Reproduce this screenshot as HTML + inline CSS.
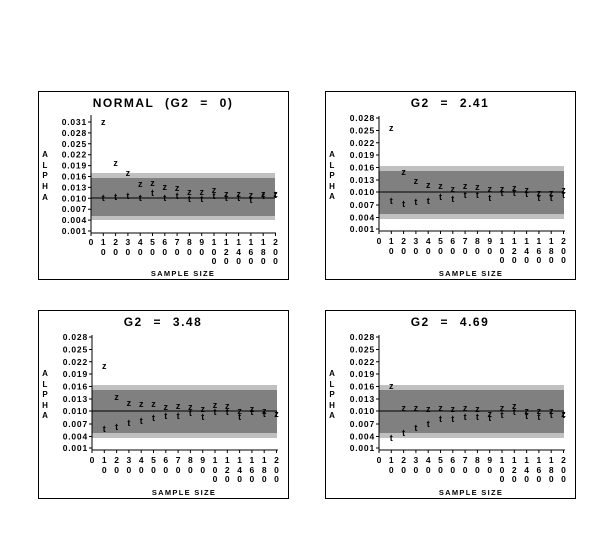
<!DOCTYPE html>
<html><head><meta charset="utf-8"><style>
html,body{margin:0;padding:0;background:#fff}
svg{display:block}
text{font-family:"Liberation Sans",Arial,sans-serif;font-weight:bold;fill:#000}
.m{font-size:9px;text-anchor:middle;dominant-baseline:central}
.yl{font-size:8.5px;text-anchor:end;dominant-baseline:central;letter-spacing:0.8px}
.xl{font-size:8.5px;text-anchor:middle}
.ti{font-size:12px;text-anchor:middle;letter-spacing:1.5px;word-spacing:6px}
.ax{font-size:7.5px;text-anchor:middle;letter-spacing:1.3px}
.al{font-size:8px;text-anchor:middle}
</style></head><body>
<svg width="615" height="535" viewBox="0 0 615 535" xmlns="http://www.w3.org/2000/svg">
<rect width="615" height="535" fill="#fff"/>

<!-- Panel 1 -->
<g transform="translate(38,91)">
<rect x="0.5" y="0.5" width="250" height="188" fill="none" stroke="#000"/>
<text class="ti" x="125" y="16">NORMAL (G2 = 0)</text>
<rect x="53" y="82" width="184" height="47" fill="#c0c0c0"/>
<rect x="53" y="87" width="184" height="38" fill="#808080"/>
<line x1="53" y1="107" x2="237" y2="107" stroke="#000"/>
<line x1="53" y1="24" x2="53" y2="142" stroke="#000"/>
<line x1="53" y1="142" x2="238" y2="142" stroke="#000"/>
<g class="yl">
<text x="49" y="31">0.031</text><text x="49" y="41.9">0.028</text><text x="49" y="52.8">0.025</text><text x="49" y="63.7">0.022</text><text x="49" y="74.6">0.019</text><text x="49" y="85.5">0.016</text><text x="49" y="96.4">0.013</text><text x="49" y="107.3">0.010</text><text x="49" y="118.2">0.007</text><text x="49" y="129.1">0.004</text><text x="49" y="140">0.001</text>
</g>
<path d="M50 31h3M50 41.9h3M50 52.8h3M50 63.7h3M50 74.6h3M50 85.5h3M50 96.4h3M50 107.3h3M50 118.2h3M50 129.1h3M50 140h3" stroke="#000"/>
<g class="xl">
<text x="53" y="154">0</text><text x="65.3" y="154">1</text><text x="77.6" y="154">2</text><text x="89.9" y="154">3</text><text x="102.2" y="154">4</text><text x="114.5" y="154">5</text><text x="126.8" y="154">6</text><text x="139.1" y="154">7</text><text x="151.4" y="154">8</text><text x="163.7" y="154">9</text><text x="176" y="154">1</text><text x="188.3" y="154">1</text><text x="200.6" y="154">1</text><text x="212.9" y="154">1</text><text x="225.2" y="154">1</text><text x="237.5" y="154">2</text>
<text x="65.3" y="164">0</text><text x="77.6" y="164">0</text><text x="89.9" y="164">0</text><text x="102.2" y="164">0</text><text x="114.5" y="164">0</text><text x="126.8" y="164">0</text><text x="139.1" y="164">0</text><text x="151.4" y="164">0</text><text x="163.7" y="164">0</text><text x="176" y="164">0</text><text x="188.3" y="164">2</text><text x="200.6" y="164">4</text><text x="212.9" y="164">6</text><text x="225.2" y="164">8</text><text x="237.5" y="164">0</text>
<text x="176" y="173">0</text><text x="188.3" y="173">0</text><text x="200.6" y="173">0</text><text x="212.9" y="173">0</text><text x="225.2" y="173">0</text><text x="237.5" y="173">0</text>
</g>
<path d="M53 142v3M65.3 142v3M77.6 142v3M89.9 142v3M102.2 142v3M114.5 142v3M126.8 142v3M139.1 142v3M151.4 142v3M163.7 142v3M176 142v3M188.3 142v3M200.6 142v3M212.9 142v3M225.2 142v3M237.5 142v3" stroke="#000"/>
<text class="ax" x="145" y="185">SAMPLE SIZE</text>
<g class="al"><text x="7" y="66">A</text><text x="7" y="77">L</text><text x="7" y="87">P</text><text x="7" y="98">H</text><text x="7" y="109">A</text></g>
<g class="m">
<text x="65.3" y="31">z</text><text x="77.6" y="72">z</text><text x="89.9" y="82">z</text><text x="102.2" y="93">z</text><text x="114.5" y="92">z</text><text x="126.8" y="96">z</text><text x="139.1" y="97">z</text><text x="151.4" y="101">z</text><text x="163.7" y="101">z</text><text x="176" y="99">z</text><text x="188.3" y="103">z</text><text x="200.6" y="103">z</text><text x="212.9" y="104">z</text><text x="225.2" y="103">z</text><text x="237.5" y="103">z</text>
<text x="65.3" y="107">t</text><text x="77.6" y="106">t</text><text x="89.9" y="105">t</text><text x="102.2" y="107">t</text><text x="114.5" y="102">t</text><text x="126.8" y="107">t</text><text x="139.1" y="105">t</text><text x="151.4" y="108">t</text><text x="163.7" y="108">t</text><text x="176" y="105">t</text><text x="188.3" y="107">t</text><text x="200.6" y="107">t</text><text x="212.9" y="109">t</text><text x="225.2" y="105">t</text><text x="237.5" y="104">t</text>
</g>
</g>

<defs>
<g id="frame">
<rect x="0.5" y="0.5" width="250" height="188" fill="none" stroke="#000"/>
<rect x="54" y="75" width="185" height="53" fill="#c0c0c0"/>
<rect x="54" y="80" width="185" height="43" fill="#808080"/>
<line x1="54" y1="101" x2="239" y2="101" stroke="#000"/>
<line x1="54" y1="25" x2="54" y2="140" stroke="#000"/>
<line x1="54" y1="140" x2="240" y2="140" stroke="#000"/>
<path d="M51 27h3M51 39.5h3M51 51.8h3M51 64h3M51 76.5h3M51 89h3M51 101h3M51 114h3M51 126.5h3M51 138h3" stroke="#000"/>
<path d="M54 140v3M66.3 140v3M78.6 140v3M90.9 140v3M103.2 140v3M115.5 140v3M127.8 140v3M140.1 140v3M152.4 140v3M164.7 140v3M177 140v3M189.3 140v3M201.6 140v3M213.9 140v3M226.2 140v3M238.5 140v3" stroke="#000"/>
<g class="yl">
<text x="50" y="27">0.028</text><text x="50" y="39.5">0.025</text><text x="50" y="51.8">0.022</text><text x="50" y="64">0.019</text><text x="50" y="76.5">0.016</text><text x="50" y="89">0.013</text><text x="50" y="101">0.010</text><text x="50" y="114">0.007</text><text x="50" y="126.5">0.004</text><text x="50" y="138">0.001</text>
</g>
<g class="xl">
<text x="54" y="153">0</text><text x="66.3" y="153">1</text><text x="78.6" y="153">2</text><text x="90.9" y="153">3</text><text x="103.2" y="153">4</text><text x="115.5" y="153">5</text><text x="127.8" y="153">6</text><text x="140.1" y="153">7</text><text x="152.4" y="153">8</text><text x="164.7" y="153">9</text><text x="177" y="153">1</text><text x="189.3" y="153">1</text><text x="201.6" y="153">1</text><text x="213.9" y="153">1</text><text x="226.2" y="153">1</text><text x="238.5" y="153">2</text>
<text x="66.3" y="163">0</text><text x="78.6" y="163">0</text><text x="90.9" y="163">0</text><text x="103.2" y="163">0</text><text x="115.5" y="163">0</text><text x="127.8" y="163">0</text><text x="140.1" y="163">0</text><text x="152.4" y="163">0</text><text x="164.7" y="163">0</text><text x="177" y="163">0</text><text x="189.3" y="163">2</text><text x="201.6" y="163">4</text><text x="213.9" y="163">6</text><text x="226.2" y="163">8</text><text x="238.5" y="163">0</text>
<text x="177" y="172">0</text><text x="189.3" y="172">0</text><text x="201.6" y="172">0</text><text x="213.9" y="172">0</text><text x="226.2" y="172">0</text><text x="238.5" y="172">0</text>
</g>
<text class="ax" x="146" y="185">SAMPLE SIZE</text>
<g class="al"><text x="7" y="66">A</text><text x="7" y="77">L</text><text x="7" y="87">P</text><text x="7" y="98">H</text><text x="7" y="108">A</text></g>
</g>
</defs>

<g transform="translate(325,91)">
<use href="#frame"/>
<text class="ti" x="125" y="16">G2 = 2.41</text>
<g class="m">
<text x="66.3" y="37">z</text><text x="78.6" y="81">z</text><text x="90.9" y="90">z</text><text x="103.2" y="94">z</text><text x="115.5" y="95">z</text><text x="127.8" y="98">z</text><text x="140.1" y="95">z</text><text x="152.4" y="96">z</text><text x="164.7" y="98">z</text><text x="177" y="98">z</text><text x="189.3" y="97">z</text><text x="201.6" y="99">z</text><text x="213.9" y="102">z</text><text x="226.2" y="102">z</text><text x="238.5" y="99">z</text>
<text x="66.3" y="110">t</text><text x="78.6" y="113">t</text><text x="90.9" y="111">t</text><text x="103.2" y="110">t</text><text x="115.5" y="106">t</text><text x="127.8" y="108">t</text><text x="140.1" y="104">t</text><text x="152.4" y="104">t</text><text x="164.7" y="107">t</text><text x="177" y="102">t</text><text x="189.3" y="102">t</text><text x="201.6" y="103">t</text><text x="213.9" y="107">t</text><text x="226.2" y="107">t</text><text x="238.5" y="104">t</text>
</g>
</g>

<g transform="translate(38,310)">
<use href="#frame"/>
<text class="ti" x="125" y="16">G2 = 3.48</text>
<g class="m">
<text x="66.3" y="56">z</text><text x="78.6" y="87">z</text><text x="90.9" y="93">z</text><text x="103.2" y="94">z</text><text x="115.5" y="94">z</text><text x="127.8" y="97">z</text><text x="140.1" y="96">z</text><text x="152.4" y="97">z</text><text x="164.7" y="99">z</text><text x="177" y="95">z</text><text x="189.3" y="96">z</text><text x="201.6" y="101">z</text><text x="213.9" y="99">z</text><text x="226.2" y="101">z</text><text x="238.5" y="104">z</text>
<text x="66.3" y="119">t</text><text x="78.6" y="117">t</text><text x="90.9" y="113">t</text><text x="103.2" y="111">t</text><text x="115.5" y="108">t</text><text x="127.8" y="106">t</text><text x="140.1" y="106">t</text><text x="152.4" y="103">t</text><text x="164.7" y="107">t</text><text x="177" y="102">t</text><text x="189.3" y="102">t</text><text x="201.6" y="107">t</text><text x="213.9" y="102">t</text><text x="226.2" y="104">t</text><text x="238.5" y="104">t</text>
</g>
</g>

<g transform="translate(325,310)">
<use href="#frame"/>
<text class="ti" x="125" y="16">G2 = 4.69</text>
<g class="m">
<text x="66.3" y="76">z</text><text x="78.6" y="98">z</text><text x="90.9" y="98">z</text><text x="103.2" y="99">z</text><text x="115.5" y="98">z</text><text x="127.8" y="99">z</text><text x="140.1" y="98">z</text><text x="152.4" y="99">z</text><text x="164.7" y="104">z</text><text x="177" y="98">z</text><text x="189.3" y="96">z</text><text x="201.6" y="101">z</text><text x="213.9" y="101">z</text><text x="226.2" y="101">z</text><text x="238.5" y="104">z</text>
<text x="66.3" y="128">t</text><text x="78.6" y="123">t</text><text x="90.9" y="118">t</text><text x="103.2" y="114">t</text><text x="115.5" y="109">t</text><text x="127.8" y="109">t</text><text x="140.1" y="107">t</text><text x="152.4" y="107">t</text><text x="164.7" y="108">t</text><text x="177" y="105">t</text><text x="189.3" y="102">t</text><text x="201.6" y="106">t</text><text x="213.9" y="107">t</text><text x="226.2" y="105">t</text><text x="238.5" y="105">t</text>
</g>
</g>
</svg>
</body></html>
